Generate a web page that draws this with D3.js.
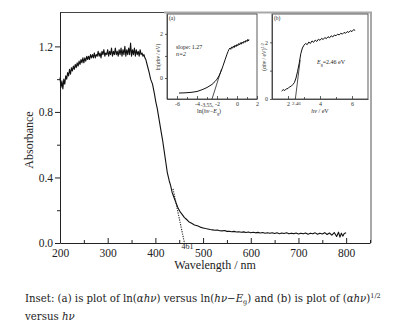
<!DOCTYPE html>
<html>
<head>
<meta charset="utf-8">
<script src="https://cdn.jsdelivr.net/npm/d3@7"></script>
<style>
  body { margin: 0; background: #fff; }
  svg { display: block; }
  text { font-family: "Liberation Serif", "Times New Roman", serif; fill: #222; }
  .axis path, .axis line { stroke: #222; }
</style>
</head>
<body>
<script>
//////////////// Daten ////////////////////
// Hauptspektrum: [Wellenlaenge nm, Absorbanz]
var spectrum = [
  [200,1.01],[202,0.95],[204,0.99],[206,0.94],[208,1.00],[210,0.97],[212,1.02],[214,1.00],[216,1.04],[218,1.02],
  [220,1.06],[222,1.03],[224,1.07],[226,1.05],[228,1.08],[230,1.06],[232,1.09],[234,1.07],[236,1.10],[238,1.08],
  [240,1.11],[242,1.09],[244,1.12],[246,1.10],[248,1.13],[250,1.10],[252,1.13],[254,1.11],[256,1.14],[258,1.12],
  [260,1.14],[262,1.12],[264,1.15],[266,1.13],[268,1.15],[270,1.13],[272,1.16],[274,1.13],[276,1.15],[278,1.14],
  [280,1.17],[282,1.14],[284,1.16],[286,1.13],[288,1.17],[290,1.15],[292,1.18],[294,1.14],[296,1.16],[298,1.15],
  [300,1.18],[302,1.14],[304,1.17],[306,1.15],[308,1.19],[310,1.14],[312,1.17],[314,1.15],[316,1.19],[318,1.15],
  [320,1.17],[322,1.14],[324,1.18],[326,1.15],[328,1.19],[330,1.14],[332,1.18],[334,1.15],[336,1.20],[338,1.14],
  [340,1.18],[342,1.15],[344,1.19],[346,1.15],[348,1.22],[350,1.14],[352,1.18],[354,1.15],[356,1.19],[358,1.14],
  [360,1.18],[362,1.15],[364,1.17],[366,1.14],[368,1.18],[370,1.15],[372,1.16],[374,1.14],[376,1.15],[378,1.13],
  [380,1.12],[383,1.085],[387,1.04],[390,1.00],[394,0.97],[398,0.91],[401,0.86],[404,0.82],[408,0.75],[412,0.68],
  [415,0.63],[419,0.55],[422,0.49],[425,0.43],[429,0.38],[432,0.35],[435,0.31],[440,0.27],[444,0.24],[448,0.21],
  [452,0.19],[456,0.175],[461,0.155],[465,0.145],[470,0.13],[476,0.12],[482,0.11],[488,0.105],[494,0.097],[500,0.092],
  [505,0.088],[510,0.085],[515,0.082],[520,0.080],[525,0.078],[530,0.079],[535,0.075],[540,0.074],[545,0.076],[550,0.071],
  [555,0.072],[560,0.069],[565,0.071],[570,0.067],[575,0.069],[580,0.066],[585,0.068],[590,0.064],[595,0.067],[600,0.063],
  [605,0.066],[610,0.062],[615,0.065],[620,0.061],[625,0.064],[630,0.060],[635,0.063],[640,0.059],[645,0.063],[650,0.058],
  [655,0.062],[660,0.057],[665,0.061],[670,0.058],[675,0.062],[680,0.056],[685,0.060],[690,0.057],[695,0.061],[700,0.055],
  [705,0.060],[710,0.056],[715,0.061],[720,0.054],[725,0.060],[730,0.056],[735,0.062],[740,0.053],[745,0.060],[750,0.055],
  [755,0.063],[760,0.052],[765,0.061],[770,0.048],[775,0.064],[780,0.040],[784,0.066],[787,0.036],[790,0.060],[793,0.042],
  [796,0.058],[800,0.062]
];
// Extrapolation bis zur Bandkante
var edgeLine = [[437,0.33],[461,0]];
var edgeLabel = "461";

var xTicksMain = [200,300,400,500,600,700,800];
var xMinorMain = [250,350,450,550,650,750,850];
var yTicksMain = [0,0.4,0.8,1.2];
var yMinorMain = [0.2,0.6,1.0];

// Inset (a): ln(ahv) gegen ln(hv-Eg)
var insetA = [
  [-5.8,-0.68],[-5.2,-0.67],[-4.6,-0.65],[-4,-0.61],[-3.5,-0.53],[-3,-0.43],[-2.5,-0.29],[-2.2,-0.16],[-2,-0.05],
  [-1.8,0.1],[-1.6,0.3],[-1.4,0.55],[-1.2,0.82],[-1.0,1.08],[-0.9,1.2],[-0.8,1.3],[-0.7,1.36],[-0.62,1.30],
  [-0.55,1.41],[-0.45,1.35],[-0.36,1.45],[-0.28,1.38],[-0.2,1.49],[-0.1,1.42],[0,1.52],[0.08,1.46],[0.16,1.56],
  [0.25,1.50],[0.34,1.60],[0.42,1.53],[0.5,1.63],[0.6,1.57],[0.7,1.67],[0.8,1.61],[0.9,1.71],[1.0,1.65],
  [1.08,1.75],[1.15,1.68],[1.2,1.74]
];
var fitA = [[-2.5,-0.95],[-1.55,0.4]];
var xTicksA = [-6,-4,-2,0,2];
var xMinorA = [-5,-3,-1,1];
var yTicksA = [0,2];
var yMinorA = [1];

// Inset (b): (ahv)^1/2 gegen hv
var insetB = [
  [1.6,0.28],[1.7,0.33],[1.8,0.30],[1.9,0.36],[2.0,0.37],[2.1,0.43],[2.2,0.45],[2.3,0.51],[2.4,0.58],[2.5,0.74],
  [2.6,0.98],[2.7,1.26],[2.8,1.6],[2.9,1.8],[3.0,1.9],[3.1,1.96],[3.2,1.92],[3.3,2.01],[3.4,1.96],[3.5,2.05],
  [3.6,2.0],[3.7,2.08],[3.8,2.03],[3.9,2.11],[4.0,2.07],[4.1,2.14],[4.2,2.10],[4.3,2.17],[4.4,2.13],[4.5,2.20],
  [4.6,2.16],[4.7,2.23],[4.8,2.19],[4.9,2.26],[5.0,2.23],[5.1,2.29],[5.2,2.26],[5.3,2.32],[5.4,2.29],[5.5,2.35],
  [5.6,2.32],[5.7,2.38],[5.8,2.35],[5.9,2.41],[6.0,2.38],[6.1,2.45],[6.2,2.42]
];
var fitB = [[2.46,0],[2.76,1.38]];
var xTicksB = [2,4,6];
var xMinorB = [3,5];
var yTicksB = [0,2];
var yMinorB = [1];

//////////////// SVG ////////////////////
var svg = d3.select("body").append("svg")
  .attr("width", 398)
  .attr("height", 333);

//////////////// Hauptdiagramm ////////////////
var xMain = d3.scaleLinear().domain([200, 850]).range([60, 370]);
var yMain = d3.scaleLinear().domain([0, 1.41]).range([243, 12]);

// Rahmen oben / rechts
svg.append("line").attr("x1", 60).attr("x2", 164).attr("y1", 12.5).attr("y2", 12.5)
  .style("stroke", "#444").style("stroke-width", 1);
svg.append("polyline")
  .attr("points", "164,12.5 371,12.5 371,243")
  .style("fill", "none").style("stroke", "#a8a8a8").style("stroke-width", 2);

svg.append("g").attr("class", "axis")
  .attr("transform", "translate(0,243)")
  .call(d3.axisBottom(xMain).tickValues(xTicksMain).tickSizeInner(-5).tickSizeOuter(0).tickPadding(6))
  .style("font-size", "11.5px");
svg.append("g").attr("class", "axis")
  .attr("transform", "translate(0,243)")
  .call(d3.axisBottom(xMain).tickValues(xMinorMain).tickSize(-3).tickFormat(""))
  .select(".domain").remove();

svg.append("g").attr("class", "axis")
  .attr("transform", "translate(60,0)")
  .call(d3.axisLeft(yMain).tickValues(yTicksMain).tickSizeInner(5).tickSizeOuter(0).tickPadding(2).tickFormat(d3.format(".1f")))
  .style("font-size", "11.5px");
svg.append("g").attr("class", "axis")
  .attr("transform", "translate(60,0)")
  .call(d3.axisLeft(yMain).tickValues(yMinorMain).tickSize(3).tickFormat(""))
  .select(".domain").remove();
svg.selectAll(".axis text").style("font-family", "'Liberation Serif', serif").style("fill", "#222");

svg.append("text")
  .attr("transform", "translate(33,140) rotate(-90)")
  .attr("text-anchor", "middle")
  .style("font-size", "12px")
  .text("Absorbance");
svg.append("text")
  .attr("x", 215).attr("y", 269)
  .attr("text-anchor", "middle")
  .style("font-size", "12px")
  .text("Wavelength / nm");

var lineMain = d3.line()
  .x(function(d){ return xMain(d[0]); })
  .y(function(d){ return yMain(d[1]); });

svg.append("path")
  .datum(edgeLine)
  .attr("d", lineMain)
  .style("fill", "none").style("stroke", "#222").style("stroke-width", 1.1)
  .style("stroke-dasharray", "1.2,1.2");

svg.append("path")
  .datum(spectrum)
  .attr("d", lineMain)
  .style("fill", "none").style("stroke", "#111").style("stroke-width", 1.1)
  .style("stroke-linejoin", "round");

svg.append("text")
  .attr("x", 193.5).attr("y", 249)
  .attr("text-anchor", "end")
  .style("font-size", "8px")
  .text(edgeLabel);

//////////////// Inset-Funktion ////////////////
function drawInset(cfg) {
  var g = svg.append("g");
  var x = d3.scaleLinear().domain(cfg.xDomain).range(cfg.xRange);
  var y = d3.scaleLinear().domain(cfg.yDomain).range(cfg.yRange);

  g.append("rect")
    .attr("x", cfg.xRange[0]).attr("y", cfg.yRange[1])
    .attr("width", cfg.xRange[1] - cfg.xRange[0])
    .attr("height", cfg.yRange[0] - cfg.yRange[1])
    .style("fill", "#fff").style("stroke", "#333").style("stroke-width", 0.8);

  g.append("g").attr("class", "axis")
    .attr("transform", "translate(0," + cfg.yRange[0] + ")")
    .call(d3.axisBottom(x).tickValues(cfg.xTicks).tickSizeInner(-3).tickSizeOuter(0).tickPadding(2.5)
      .tickFormat(function(d){ return d < 0 ? "-" + Math.abs(d) : d; }));
  g.append("g").attr("class", "axis")
    .attr("transform", "translate(0," + cfg.yRange[0] + ")")
    .call(d3.axisBottom(x).tickValues(cfg.xMinor).tickSize(-2).tickFormat(""))
    .select(".domain").remove();
  g.append("g").attr("class", "axis")
    .attr("transform", "translate(" + cfg.xRange[0] + ",0)")
    .call(d3.axisLeft(y).tickValues(cfg.yTicks).tickSizeInner(2).tickSizeOuter(0).tickPadding(2)
      .tickFormat(d3.format("d")));
  g.append("g").attr("class", "axis")
    .attr("transform", "translate(" + cfg.xRange[0] + ",0)")
    .call(d3.axisLeft(y).tickValues(cfg.yMinor).tickSize(2).tickFormat(""))
    .select(".domain").remove();
  g.selectAll(".axis text").style("font-size", "6px")
    .style("font-family", "'Liberation Serif', serif").style("fill", "#333");
  g.selectAll(".axis path, .axis line").style("stroke-width", 0.7);

  var line = d3.line()
    .x(function(d){ return x(d[0]); })
    .y(function(d){ return y(d[1]); });

  g.append("path").datum(cfg.fit).attr("d", line)
    .style("fill", "none").style("stroke", "#222").style("stroke-width", 0.8);
  g.append("path").datum(cfg.data).attr("d", line)
    .style("fill", "none").style("stroke", "#111").style("stroke-width", 1)
    .style("stroke-linejoin", "round");

  g.append("text")
    .attr("x", cfg.xRange[0] + 2).attr("y", cfg.yRange[1] + 6)
    .style("font-size", "5.5px")
    .text(cfg.tag);
  return {g: g, x: x, y: y};
}

//////////////// Inset (a) ////////////////
var ia = drawInset({
  xDomain: [-7, 2], xRange: [167, 257],
  yDomain: [-0.95, 2.9], yRange: [99, 14],
  xTicks: xTicksA, xMinor: xMinorA, yTicks: yTicksA, yMinor: yMinorA,
  data: insetA, fit: fitA, tag: "(a)"
});
// Beschriftung des Schnittpunkts -3.55, direkt links neben "-2"
ia.g.append("text")
  .attr("x", ia.x(-2) - 3.5).attr("y", 106.5)
  .attr("text-anchor", "end")
  .style("font-size", "5.5px").style("fill", "#333")
  .text("-3.55,");
ia.g.append("text")
  .attr("x", 176).attr("y", 49)
  .style("font-size", "6px")
  .text("slope: 1.27");
ia.g.append("text")
  .attr("x", 176).attr("y", 56)
  .style("font-size", "6px").style("font-style", "italic")
  .text("n=2");
ia.g.append("text")
  .attr("x", 209).attr("y", 113)
  .attr("text-anchor", "middle")
  .style("font-size", "6px")
  .html("ln(<tspan font-style='italic'>hν−E</tspan><tspan font-size='4px' dy='1.5'>g</tspan><tspan dy='-1.5'>)</tspan>");
ia.g.append("text")
  .attr("transform", "translate(160,57) rotate(-90)")
  .attr("text-anchor", "middle")
  .style("font-size", "5.5px")
  .html("ln(<tspan font-style='italic'>αhν</tspan> / eV)");

//////////////// Inset (b) ////////////////
var ib = drawInset({
  xDomain: [1, 7], xRange: [272, 368],
  yDomain: [0, 3], yRange: [99, 14],
  xTicks: xTicksB, xMinor: xMinorB, yTicks: yTicksB, yMinor: yMinorB,
  data: insetB, fit: fitB, tag: "(b)"
});
ib.g.append("text")
  .attr("x", ib.x(2.46) + 1).attr("y", 105)
  .attr("text-anchor", "middle")
  .style("font-size", "5px").style("fill", "#333")
  .text("2.46");
ib.g.append("text")
  .attr("x", 317).attr("y", 64)
  .style("font-size", "6px")
  .html("<tspan font-style='italic'>E</tspan><tspan font-size='4px' dy='1.5'>g</tspan><tspan dy='-1.5'>=2.46 eV</tspan>");
ib.g.append("text")
  .attr("x", 320).attr("y", 113)
  .attr("text-anchor", "middle")
  .style("font-size", "6px")
  .html("<tspan font-style='italic'>hν</tspan> / eV");
ib.g.append("text")
  .attr("transform", "translate(266,57) rotate(-90)")
  .attr("text-anchor", "middle")
  .style("font-size", "5.5px")
  .html("(<tspan font-style='italic'>αhν</tspan> / eV)<tspan font-size='4px' dy='-2'>1/2</tspan>");

//////////////// Bildunterschrift ////////////////
var cap = svg.append("g")
  .style("font-size", "10.2px");
cap.append("text")
  .attr("x", 25).attr("y", 302)
  .style("font-family", "'DejaVu Serif', serif")
  .html("Inset: (a) is plot of ln(<tspan font-style='italic'>αhν</tspan>) versus ln(<tspan font-style='italic'>hν</tspan>−<tspan font-style='italic'>E</tspan><tspan font-size='6.5px' dy='2'>g</tspan><tspan dy='-2'>) and (b) is plot of (</tspan><tspan font-style='italic'>αhν</tspan>)<tspan font-size='6.5px' dy='-4'>1/2</tspan>");
cap.append("text")
  .attr("x", 25).attr("y", 320)
  .style("font-family", "'DejaVu Serif', serif")
  .html("versus <tspan font-style='italic'>hν</tspan>");
</script>
</body>
</html>
